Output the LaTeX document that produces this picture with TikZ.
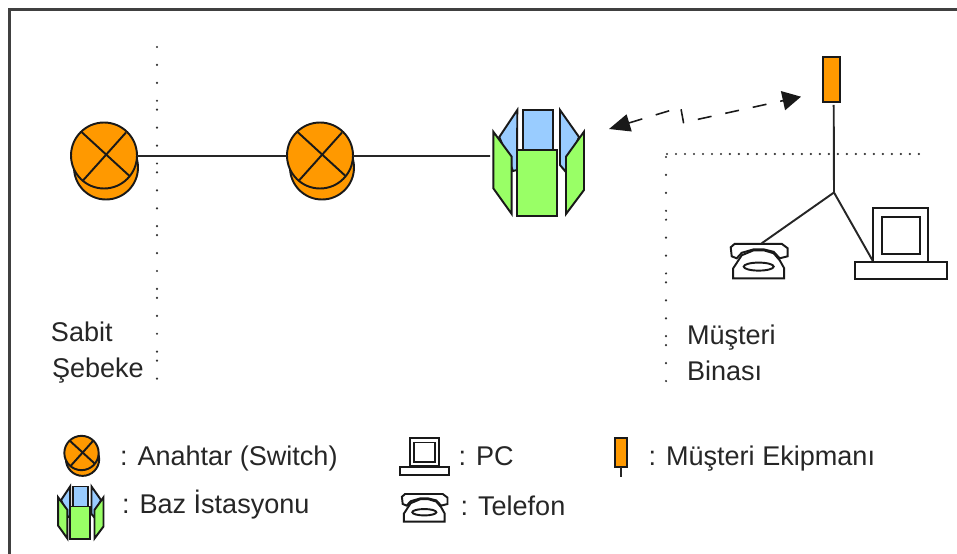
\documentclass[tikz,border=0pt]{standalone}
\usepackage{fontspec}
\setmainfont{Liberation Sans}
\usetikzlibrary{arrows.meta}
\definecolor{swcol}{HTML}{FF9900}
\definecolor{bluecol}{HTML}{99CCFF}
\definecolor{greencol}{HTML}{99FF66}
\tikzset{
  wire/.style={draw=black!85, line width=1.1pt},
  shp/.style={draw=black!90, line width=1.1pt, line join=miter},
  frameline/.style={draw=black!75, line width=1.5pt},
  dotv/.style={line width=1.4pt, line cap=round, draw=black!80, dash pattern=on 0pt off 10.2pt on 0pt off 10.2pt on 0pt off 10.2pt on 0pt off 5.1pt},
  doth/.style={line width=1.4pt, line cap=round, draw=black!80, dash pattern=on 0pt off 5.12pt},
  lbl/.style={anchor=base west, inner sep=0pt, outer sep=0pt, text=black!85, font=\fontsize{15.4}{18}\selectfont},
  switchpic/.pic={
    \draw[shp, fill=swcol] (2,12) circle [x radius=32, y radius=32];
    \draw[shp, fill=swcol] (0,0) circle [x radius=33, y radius=33];
    \draw[shp] (-23,-24) -- (25,20);
    \draw[shp] (22,-23) -- (-21,25);
    \coordinate (-w) at (-33,0.5);
    \coordinate (-e) at (33,0.5);
  },
  basepic/.pic={
    \draw[shp, fill=bluecol] (-19.7,-53) -- (-37.7,-26) -- (-24,8) -- (-20,7) -- cycle;
    \draw[shp, fill=bluecol] (23,-53) -- (42,-26) -- (28,8) -- (23,2) -- cycle;
    \draw[shp, fill=bluecol] (-14,-53) rectangle (16,-13);
    \draw[shp, fill=greencol] (-43.7,-31.3) -- (-25.3,-6.3) -- (-25.3,51) -- (-43.7,25.3) -- cycle;
    \draw[shp, fill=greencol] (47,-31.3) -- (29,-6.3) -- (29,51) -- (47,27) -- cycle;
    \draw[shp, fill=greencol] (-19.7,-13) rectangle (20.3,52.7);
    \coordinate (-w) at (-47,-7);
  },
  equippic/.pic={
    \draw[shp, fill=swcol] (-8.3,-22.5) rectangle (8.3,22.5);
    \coordinate (-s) at (2,25);
  },
  pcpic/.pic={
    \draw[shp] (-27.7,-35.2) rectangle (27.3,18.2);
    \draw[shp] (-19,-26.8) rectangle (19.3,10.8);
    \draw[shp] (-45.7,18.8) rectangle (45.7,35.2);
    \coordinate (-w) at (-28.3,17.2);
  },
  phonepic/.pic={
    \draw[shp] (-28,-12) -- (-24,-15.5) -- (23,-15.5) -- (29,-11) -- (29,-3) -- (21,-1) -- (15,-7.5) -- (5,-10) -- (-5,-10) -- (-17,-6.5) -- (-22,-1) -- (-27,-3) -- cycle;
    \draw[shp, fill=white] (-25.5,19) -- (-25.5,9) -- (-17,-4) -- (-5,-9) -- (5,-9) -- (15,-6) -- (21,1) -- (25.5,9) -- (25.5,19) -- cycle;
    \draw[shp] (0,7.3) circle [x radius=15, y radius=4];
    \coordinate (-n) at (3,-16);
  },
}

\begin{document}
\begin{tikzpicture}[x=0.02cm, y=-0.02cm]
\useasboundingbox (0,0) rectangle (957,554);
\draw[frameline] (9.5,554) -- (9.5,9.5) -- (957,9.5);
% boundaries
\draw[dotv] (157,47) -- (157,380);
\draw[doth] (667,154) -- (926,154);
\draw[dotv] (666,157) -- (666,396);
% network
\pic (swa) at (104,155.5) {switchpic};
\pic (swb) at (320,155.5) {switchpic};
\pic (bs) at (537,163) {basepic};
\draw[wire] (swa-e) -- (swb-w);
\draw[wire] (swb-e) -- (bs-w);
% radio link
\coordinate (linka) at (609,129);
\coordinate (linkb) at (680.7,107.3);
\coordinate (linkc) at (683.5,122.5);
\coordinate (linkd) at (801,96.7);
\draw[{Triangle[length=12pt,width=10pt]}-{Triangle[length=10.5pt,width=11pt]}, line width=.9pt, draw=black!90, dash pattern=on 8pt off 8pt] (linka) -- (linkb) -- (linkc) -- (linkd);
% customer side
\pic (eq) at (831.7,79.8) {equippic};
\pic (pc) at (901,243.5) {pcpic};
\pic (phone) at (758.7,259.3) {phonepic};
\coordinate (joint) at (834,192.5);
\draw[wire] (eq-s) -- (joint);
\draw[wire] (joint) -- (phone-n);
\draw[wire] (joint) -- (pc-w);
% labels
\node[lbl] (sabit) at (51,341) {Sabit};
\node[lbl] (sebeke) at (52,377) {Şebeke};
\node[lbl] (musteri) at (687,344) {Müşteri};
\node[lbl] (binasi) at (687,380) {Binası};
% legend
\pic[scale=.52] (lgsw) at (81.5,453) {switchpic};
\pic[scale=.5] (lgbs) at (80,513) {basepic};
\pic[scale=.53] (lgpc) at (424.5,456.7) {pcpic};
\pic[scale=.8] (lgphone) at (424.3,506.4) {phonepic};
\pic[xscale=.7, yscale=.64] (lgeq) at (620.8,452.8) {equippic};
\coordinate (lgstem) at (621.3,477);
\draw[wire] (621.3,467.3) -- (lgstem);
\node[lbl] (lgswt) at (120,465.5) {: Anahtar (Switch)};
\node[lbl] (lgbst) at (122,513) {: Baz İstasyonu};
\node[lbl] (lgpct) at (458.5,465) {: PC};
\node[lbl] (lgphonet) at (460.5,515.5) {: Telefon};
\node[lbl] (lgeqt) at (648.5,465) {: Müşteri Ekipmanı};
\end{tikzpicture}
\end{document}
